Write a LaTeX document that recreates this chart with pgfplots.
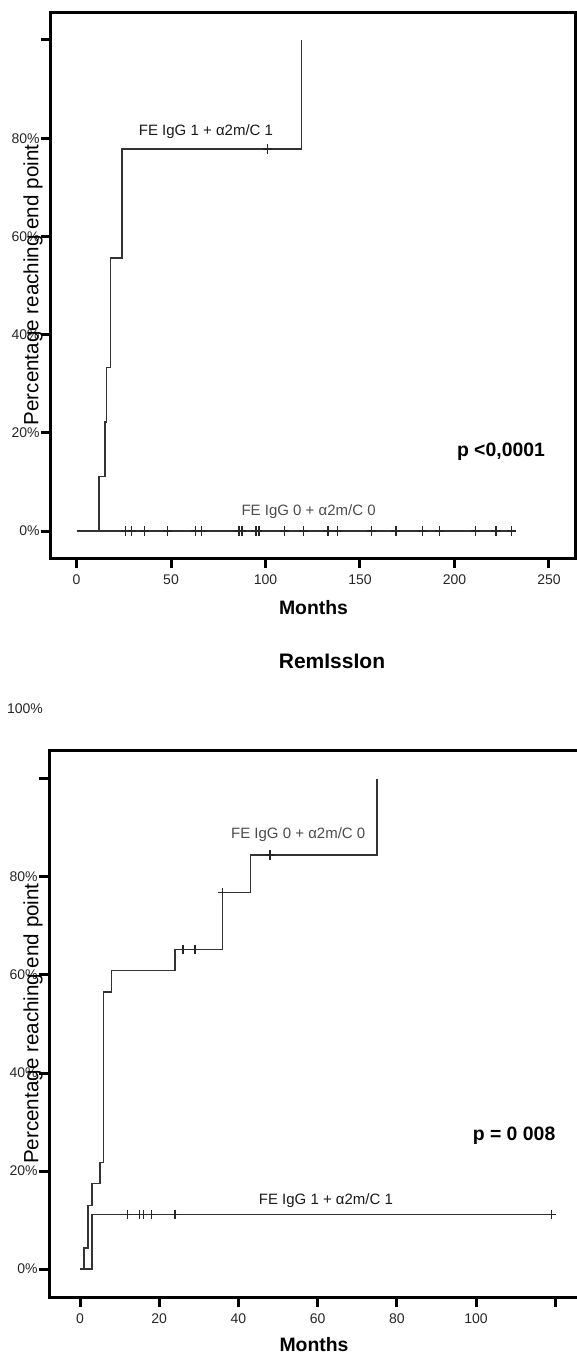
\documentclass[border=0pt]{standalone}
\usepackage{pgfplots}
\pgfplotsset{compat=1.18}
\usepackage{fontspec}
\setmainfont{Liberation Sans}

\pgfplotsset{
  kmaxis/.style={
    scale only axis,
    axis line style={line width=1.5pt},
    tick style={line width=1.5pt, black},
    major tick length=5pt,
    tick align=outside,
    xtick pos=left, ytick pos=left,
    minor tick num=0,
    ymin=-5.5, ymax=105.7,
    ytick={0,20,40,60,80,100},
    yticklabels={0\%,20\%,40\%,60\%,80\%,{}},
    ticklabel style={font=\fontsize{7}{8}\selectfont, text=black!85},
    yticklabel style={inner sep=0.5pt},
    xlabel={Months},
    ylabel={Percentage reaching end point},
  },
  km/.style={const plot, black!80, line width=0.7pt, mark=none},
  cens/.style={only marks, mark=+, mark size=2.3pt, black!85, mark options={line width=0.65pt}},
}
\tikzset{
  grp/.style={font=\fontsize{7.5}{9}\selectfont},
  pval/.style={font=\bfseries\fontsize{9.7}{11}\selectfont},
}

\begin{document}
\begin{tikzpicture}
\useasboundingbox (0,0) rectangle (288.5pt,-678pt);

% ---- top panel
\begin{axis}[kmaxis,
  at={(25.5pt,-279pt)}, anchor=south west,
  width=262.5pt, height=273pt,
  xmin=-13.5, xmax=264.3,
  xtick={0,50,100,150,200,250},
  xticklabels={0,50,100,150,200,250},
  every axis x label/.style={at={(axis description cs:0.5,-0.0916)}, anchor=center,
    font=\bfseries\fontsize{9.7}{11}\selectfont},
  every axis y label/.style={at={(axis description cs:-0.0343,0.5)}, rotate=90, anchor=center,
    font=\fontsize{10.3}{12}\selectfont},
]
  % FE IgG 1 + a2m/C 1
  \addplot[km] coordinates {(0,0) (12,11.1) (15,22.2) (16,33.3) (18,55.6) (24,77.8) (119,100)};
  \addplot[cens] coordinates {(101,77.8)};
  % FE IgG 0 + a2m/C 0
  \addplot[km] coordinates {(0,0) (232,0)};
  \addplot[cens] coordinates {
    (26,0) (29,0) (36,0) (48,0) (63,0) (66,0) (86,0) (87.5,0) (95,0) (96.5,0)
    (110,0) (120,0) (133,0) (138,0) (156,0) (169,0) (183,0) (192,0) (211,0)
    (222,0) (230,0)};
  \node[grp, text=black!90] at (axis cs:68.5,81.3) {FE IgG 1 + α2m/C 1};
  \node[grp, text=black!70] at (axis cs:122.8,3.9) {FE IgG 0 + α2m/C 0};
  \node[pval] at (axis cs:224.6,16.1) {p <0,0001};
\end{axis}

\node[font=\bfseries\fontsize{10.5}{12}\selectfont] at (166pt,-330.5pt) {RemIssIon};
\node[font=\fontsize{7}{8}\selectfont, text=black!85] at (12.5pt,-354.5pt) {100\%};

% ---- bottom panel
\begin{axis}[kmaxis,
  at={(24.5pt,-648.5pt)}, anchor=south west,
  width=265pt, height=273.5pt,
  xmin=-7.83, xmax=126,
  ymin=-5.7, ymax=105.9,
  xtick={0,20,40,60,80,100,120},
  xticklabels={0,20,40,60,80,100,{}},
  every axis x label/.style={at={(axis description cs:0.5,-0.0878)}, anchor=center,
    font=\bfseries\fontsize{9.7}{11}\selectfont},
  every axis y label/.style={at={(axis description cs:-0.0302,0.5)}, rotate=90, anchor=center,
    font=\fontsize{10.3}{12}\selectfont},
]
  % FE IgG 0 + a2m/C 0
  \addplot[km] coordinates {(0,0) (1,4.3) (2,13.0) (3,17.4) (5,21.7) (6,56.5) (8,60.9) (24,65.2) (36,76.8) (43,84.5) (75,100)};
  \addplot[cens] coordinates {(26,65.2) (29,65.2) (36,76.8) (48,84.5)};
  % FE IgG 1 + a2m/C 1
  \addplot[km] coordinates {(0,0) (3,11.1) (119.5,11.1)};
  \addplot[cens] coordinates {(12,11.1) (15,11.1) (16,11.1) (18,11.1) (24,11.1) (119,11.1)};
  \node[grp, text=black!70] at (axis cs:55.1,88.6) {FE IgG 0 + α2m/C 0};
  \node[grp, text=black!90] at (axis cs:62.1,13.9) {FE IgG 1 + α2m/C 1};
  \node[pval] at (axis cs:109.6,27.3) {p = 0 008};
\end{axis}
\end{tikzpicture}
\end{document}
